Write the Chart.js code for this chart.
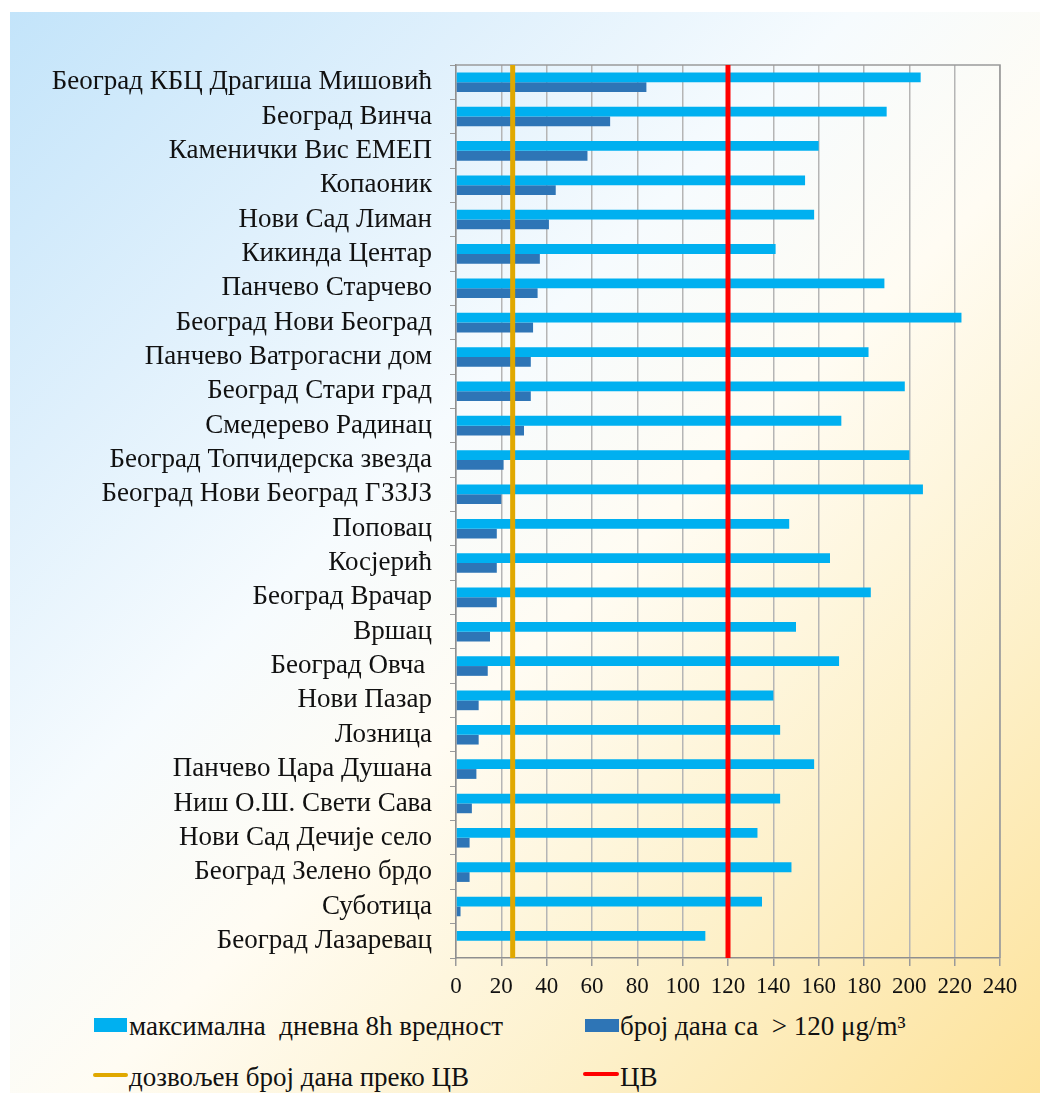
<!DOCTYPE html>
<html>
<head>
<meta charset="utf-8">
<script src="https://cdn.jsdelivr.net/npm/chart.js@4.4.1/dist/chart.umd.min.js"></script>
<style>
  html, body { margin: 0; padding: 0; background: #ffffff; width: 1040px; height: 1093px; overflow: hidden; }
  #bg { position: absolute; left: 10px; top: 12px; width: 1030px; height: 1081px;
        background: linear-gradient(135deg, #c3e4fa 0%, #dff0fc 22%, #f6fbfe 40%, #fffcf3 55%, #fdf0c8 78%, #fde29a 100%); }
  #wrap { position: absolute; left: 0; top: 0; width: 1040px; height: 1000px; }
  .leg { position: absolute; font-family: "Liberation Serif", "Times New Roman", serif; font-size: 27px; color: #111; white-space: pre; line-height: 30px; }
  .sw { position: absolute; }
</style>
</head>
<body>
<div id="bg"></div>
<div id="wrap"><canvas id="c" width="1040" height="1000"></canvas></div>

<div class="sw" style="left:94px;top:1018px;width:33px;height:14px;background:#00b0f0;"></div>
<div class="leg" style="left:129px;top:1011px;">максимална  дневна 8h вредност</div>
<div class="sw" style="left:585px;top:1019px;width:34px;height:13px;background:#2e75b6;"></div>
<div class="leg" style="left:620px;top:1011px;">број дана са  &gt; 120 μg/m³</div>
<div class="sw" style="left:93px;top:1073px;width:35px;height:4px;background:#e0a800;border-radius:2px;"></div>
<div class="leg" style="left:129px;top:1062px;">дозвољен број дана преко ЦВ</div>
<div class="sw" style="left:583px;top:1072px;width:36px;height:4px;background:#ff0000;border-radius:2px;"></div>
<div class="leg" style="left:620px;top:1062px;">ЦВ</div>

<script>
const stations = [
  "Београд КБЦ Драгиша Мишовић",
  "Београд Винча",
  "Каменички Вис ЕМЕП",
  "Копаоник",
  "Нови Сад Лиман",
  "Кикинда Центар",
  "Панчево Старчево",
  "Београд Нови Београд",
  "Панчево Ватрогасни дом",
  "Београд Стари град",
  "Смедерево Радинац",
  "Београд Топчидерска звезда",
  "Београд Нови Београд ГЗЗЈЗ",
  "Поповац",
  "Косјерић",
  "Београд Врачар",
  "Вршац",
  "Београд Овча ",
  "Нови Пазар",
  "Лозница",
  "Панчево Цара Душана",
  "Ниш О.Ш. Свети Сава",
  "Нови Сад Дечије село",
  "Београд Зелено брдо",
  "Суботица",
  "Београд Лазаревац"
];
const maxDaily8h = [205, 190, 160, 154, 158, 141, 189, 223, 182, 198, 170, 200, 206, 147, 165, 183, 150, 169, 140, 143, 158, 143, 133, 148, 135, 110];
const daysOver120 = [84, 68, 58, 44, 41, 37, 36, 34, 33, 33, 30, 21, 20, 18, 18, 18, 15, 14, 10, 10, 9, 7, 6, 6, 2, 0];
const allowedDays = 25;
const limitValue = 120;
const xTicks = [0, 20, 40, 60, 80, 100, 120, 140, 160, 180, 200, 220, 240];

const legendNames = ["максимална  дневна 8h вредност", "број дана са  > 120 μg/m³", "дозвољен број дана преко ЦВ", "ЦВ"];
const refLines = [
  { name: legendNames[2], value: allowedDays, color: '#e0a800' },
  { name: legendNames[3], value: limitValue, color: '#ff0000' }
];

const frameAndLines = {
  id: 'frameAndLines',
  afterDatasetsDraw(chart) {
    const a = chart.chartArea, ctx = chart.ctx, xs = chart.scales.x;
    ctx.save();
    ctx.strokeStyle = '#9a9a9a';
    ctx.lineWidth = 1.5;
    ctx.beginPath();
    ctx.moveTo(a.left, a.top); ctx.lineTo(a.right, a.top); ctx.lineTo(a.right, a.bottom);
    ctx.stroke();
    ctx.lineWidth = 5;
    for (const l of refLines) {
      const px = xs.getPixelForValue(l.value);
      ctx.strokeStyle = l.color;
      ctx.beginPath();
      ctx.moveTo(px, a.top);
      ctx.lineTo(px, a.bottom);
      ctx.stroke();
    }
    ctx.restore();
  }
};

new Chart(document.getElementById('c'), {
  type: 'bar',
  plugins: [frameAndLines],
  data: {
    labels: stations,
    datasets: [
      { label: legendNames[0], data: maxDaily8h, backgroundColor: '#00b0f0',
        barPercentage: 1.0, categoryPercentage: 0.57 },
      { label: legendNames[1], data: daysOver120, backgroundColor: '#2e75b6',
        barPercentage: 1.0, categoryPercentage: 0.57 }
    ]
  },
  options: {
    indexAxis: 'y',
    responsive: false,
    animation: false,
    layout: { padding: { left: 0, right: 40, top: 65, bottom: 0 } },
    plugins: { legend: { display: false }, tooltip: { enabled: false } },
    scales: {
      x: {
        type: 'linear', position: 'bottom', min: 0, max: 240,
        afterBuildTicks: s => { s.ticks = xTicks.map(v => ({ value: v })); },
        afterFit: s => { s.height = 42; },
        grid: { color: '#b5b5b5', lineWidth: 1.5, tickLength: 8, drawTicks: true, tickColor: '#9a9a9a' },
        border: { color: '#8f8f8f', width: 1.5 },
        ticks: { color: '#111', padding: 7, font: { family: '"Liberation Serif", "Times New Roman", serif', size: 23 } }
      },
      y: {
        type: 'category', position: 'left', offset: true,
        afterFit: s => { s.width = 456; },
        grid: { display: true, drawOnChartArea: false, drawTicks: true, tickLength: 6, color: '#9a9a9a', offset: true },
        border: { color: '#8f8f8f', width: 1.5 },
        ticks: { color: '#111', padding: 18, autoSkip: false, font: { family: '"Liberation Serif", "Times New Roman", serif', size: 27 } }
      }
    }
  }
});
</script>
</body>
</html>
